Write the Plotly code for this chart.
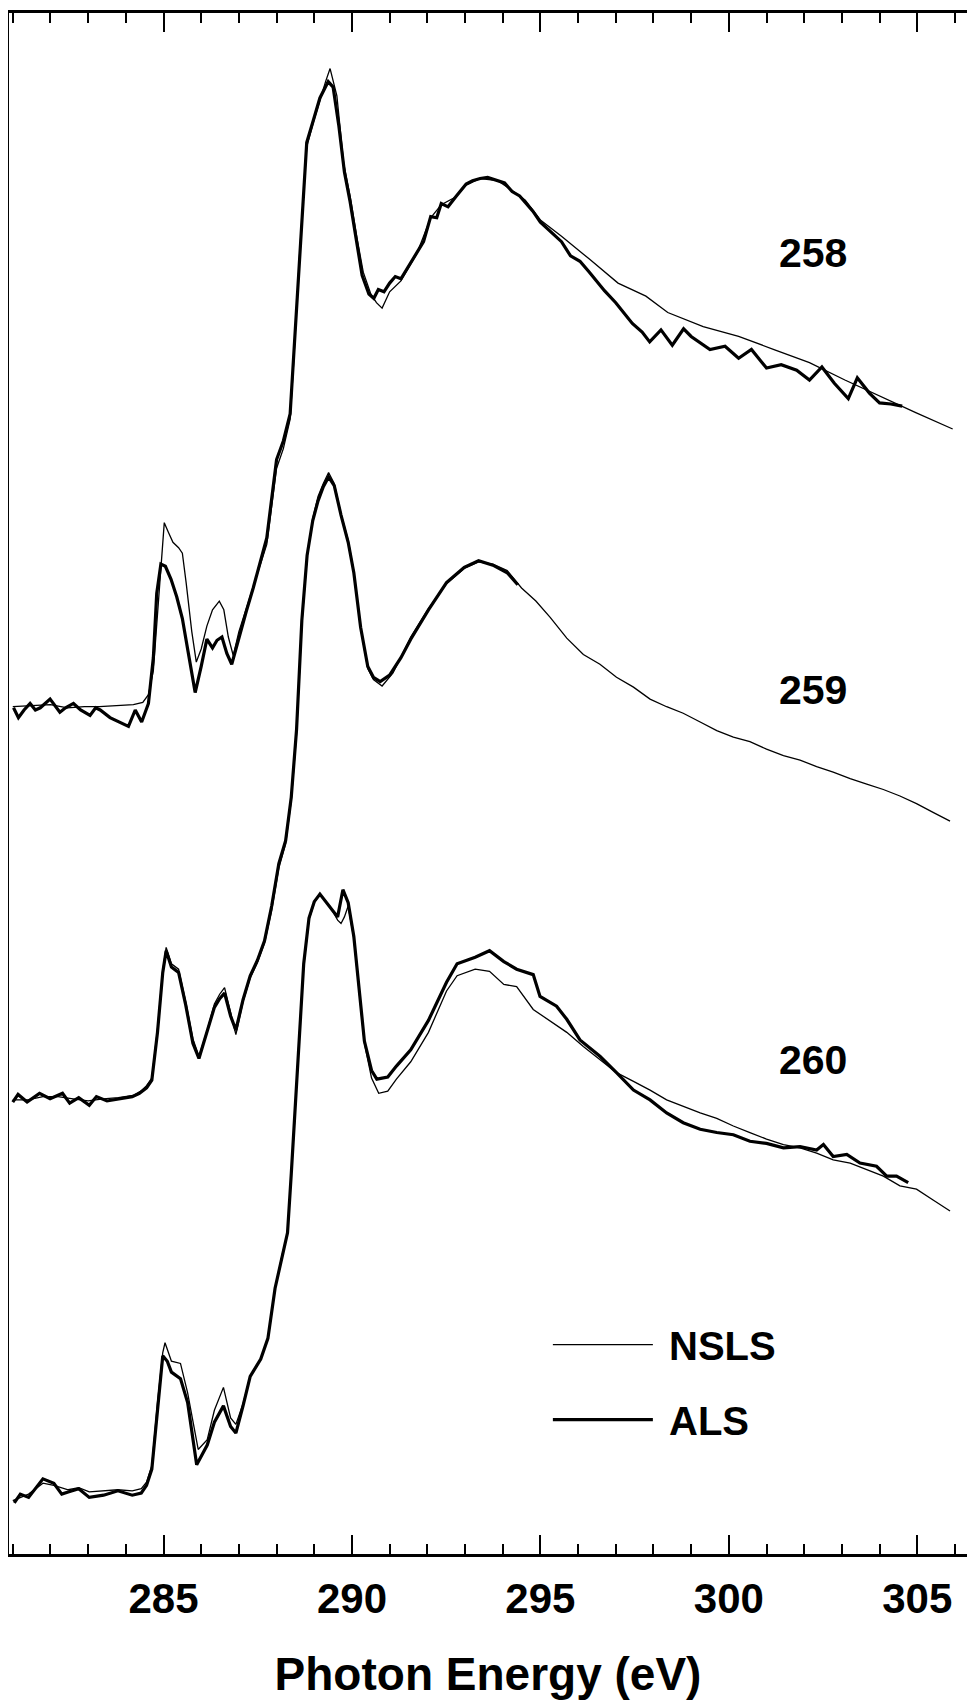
import plotly.graph_objects as go

# ---------------- data (photon energy in eV, intensity in arbitrary units, spectra vertically offset) -------------
e_258_nsls = [281.0, 281.5, 282.0, 282.45, 282.9, 283.3, 283.75, 284.2, 284.45, 284.6, 284.73, 284.85, 284.93, 285.02,
              285.12, 285.25, 285.4, 285.5, 285.6, 285.75, 285.87, 286.0, 286.15, 286.3, 286.48, 286.6, 286.72, 286.85,
              287.0, 287.2, 287.4, 287.6, 287.74, 288.0, 288.18, 288.36, 288.45, 288.62, 288.8, 288.98, 289.15, 289.3,
              289.42, 289.6, 289.78, 289.95, 290.13, 290.3, 290.5, 290.65, 290.8, 291.0, 291.3, 291.72, 292.09, 292.37,
              292.75, 293.03, 293.4, 293.87, 294.25, 294.6, 295.0, 295.56, 296.3, 297.06, 297.8, 298.38, 299.32, 300.26,
              301.2, 302.14, 303.08, 304.0, 304.96, 305.94]
i_258_nsls = [7.78, 7.79, 7.80, 7.77, 7.78, 7.78, 7.79, 7.80, 7.82, 7.89, 8.11, 8.67, 9.12, 9.47,
              9.39, 9.29, 9.24, 9.19, 8.92, 8.47, 8.19, 8.31, 8.52, 8.67, 8.75, 8.67, 8.42, 8.25,
              8.47, 8.69, 8.89, 9.12, 9.27, 9.97, 10.15, 10.42, 10.92, 11.99, 12.92, 13.15, 13.35, 13.52,
              13.64, 13.39, 12.77, 12.47, 12.09, 11.77, 11.57, 11.49, 11.44, 11.59, 11.69, 11.94, 12.27, 12.39,
              12.46, 12.57, 12.63, 12.61, 12.52, 12.43, 12.25, 12.10, 11.89, 11.67, 11.55, 11.40, 11.27, 11.18,
              11.06, 10.94, 10.78, 10.63, 10.48, 10.33]

e_258_als = [281.02, 281.15, 281.3, 281.46, 281.6, 281.73, 281.99, 282.25, 282.4, 282.61, 282.8, 283.05, 283.2, 283.32,
             283.58, 283.84, 284.07, 284.25, 284.42, 284.6, 284.73, 284.82, 284.93, 285.05, 285.2, 285.35, 285.5, 285.65,
             285.84, 286.0, 286.15, 286.3, 286.42, 286.55, 286.68, 286.81, 287.0, 287.2, 287.38, 287.65, 287.74, 288.0,
             288.18, 288.36, 288.45, 288.62, 288.8, 288.98, 289.15, 289.37, 289.5, 289.65, 289.8, 289.95, 290.13, 290.27,
             290.45, 290.58, 290.7, 290.85, 291.0, 291.15, 291.3, 291.5, 291.72, 291.9, 292.09, 292.25, 292.37, 292.55,
             292.75, 293.03, 293.2, 293.4, 293.6, 293.87, 294.05, 294.25, 294.45, 294.6, 294.8, 295.0, 295.3, 295.56,
             295.8, 296.05, 296.3, 296.7, 297.0, 297.44, 297.7, 297.9, 298.2, 298.5, 298.8, 299.0, 299.5, 299.9,
             300.26, 300.6, 301.0, 301.39, 301.8, 302.14, 302.47, 302.8, 303.17, 303.41, 303.73, 304.0, 304.3, 304.6]
i_258_als = [7.77, 7.68, 7.75, 7.81, 7.75, 7.77, 7.85, 7.73, 7.77, 7.81, 7.75, 7.70, 7.77, 7.75,
             7.68, 7.64, 7.60, 7.75, 7.64, 7.81, 8.23, 8.82, 9.09, 9.07, 8.95, 8.79, 8.59, 8.29,
             7.91, 8.15, 8.40, 8.32, 8.39, 8.42, 8.27, 8.17, 8.42, 8.66, 8.87, 9.22, 9.33, 10.05,
             10.22, 10.47, 10.98, 12.03, 12.96, 13.17, 13.37, 13.52, 13.47, 13.12, 12.69, 12.42, 12.05, 11.74,
             11.57, 11.53, 11.61, 11.59, 11.67, 11.73, 11.71, 11.82, 11.95, 12.05, 12.28, 12.27, 12.40, 12.37,
             12.46, 12.58, 12.61, 12.63, 12.64, 12.61, 12.59, 12.51, 12.47, 12.41, 12.33, 12.23, 12.13, 12.05,
             11.92, 11.87, 11.77, 11.60, 11.49, 11.30, 11.22, 11.13, 11.24, 11.10, 11.25, 11.18, 11.06, 11.09,
             10.98, 11.06, 10.89, 10.92, 10.87, 10.78, 10.90, 10.75, 10.61, 10.80, 10.66, 10.57, 10.56, 10.54]

e_259_nsls = [281.0, 281.4, 281.8, 282.2, 282.6, 283.0, 283.4, 283.8, 284.2, 284.4, 284.55, 284.69, 284.84, 284.98,
              285.07, 285.21, 285.4, 285.59, 285.78, 285.94, 286.16, 286.35, 286.49, 286.62, 286.78, 286.92, 287.11,
              287.3, 287.49, 287.68, 287.87, 288.06, 288.24, 288.39, 288.53, 288.67, 288.81, 288.96, 289.1, 289.24,
              289.38, 289.53, 289.71, 289.9, 290.05, 290.23, 290.42, 290.57, 290.8, 291.09, 291.56, 292.03, 292.51,
              292.98, 293.36, 293.74, 294.12, 294.5, 294.88, 295.26, 295.7, 296.14, 296.58, 297.02, 297.47, 297.91,
              298.35, 298.79, 299.24, 299.68, 300.12, 300.56, 301.0, 301.45, 301.89, 302.33, 302.77, 303.22, 303.66,
              304.1, 304.54, 304.98, 305.42, 305.87]
i_259_nsls = [4.17, 4.17, 4.20, 4.20, 4.18, 4.16, 4.18, 4.19, 4.21, 4.25, 4.30, 4.37, 4.82, 5.36,
              5.57, 5.42, 5.37, 5.07, 4.73, 4.57, 4.81, 5.05, 5.14, 5.20, 4.97, 4.77, 5.07,
              5.29, 5.43, 5.61, 5.91, 6.30, 6.52, 6.92, 7.53, 8.54, 9.15, 9.51, 9.71, 9.83,
              9.93, 9.83, 9.55, 9.31, 9.02, 8.50, 8.13, 8.03, 7.97, 8.09, 8.42, 8.68, 8.91,
              9.05, 9.11, 9.09, 9.03, 8.87, 8.75, 8.60, 8.41, 8.26, 8.17, 8.05, 7.96, 7.85,
              7.78, 7.72, 7.64, 7.56, 7.50, 7.46, 7.39, 7.33, 7.29, 7.23, 7.18, 7.12, 7.07,
              7.02, 6.96, 6.89, 6.81, 6.73]

e_259_als = [281.0, 281.14, 281.38, 281.71, 281.99, 282.32, 282.51, 282.75, 283.03, 283.22, 283.5, 283.89, 284.17,
             284.36, 284.55, 284.69, 284.84, 284.98, 285.07, 285.21, 285.4, 285.59, 285.78, 285.94, 286.16, 286.35,
             286.49, 286.62, 286.78, 286.92, 287.11, 287.3, 287.49, 287.68, 287.87, 288.06, 288.24, 288.39, 288.53,
             288.67, 288.81, 288.96, 289.1, 289.24, 289.38, 289.53, 289.71, 289.9, 290.05, 290.23, 290.42, 290.57,
             290.75, 291.0, 291.3, 291.56, 292.03, 292.51, 292.98, 293.36, 293.74, 294.12, 294.4]
i_259_als = [4.15, 4.22, 4.15, 4.23, 4.18, 4.23, 4.14, 4.19, 4.12, 4.20, 4.16, 4.18, 4.20,
             4.23, 4.28, 4.35, 4.79, 5.34, 5.54, 5.39, 5.34, 5.04, 4.69, 4.55, 4.79, 5.02,
             5.10, 5.15, 4.94, 4.81, 5.09, 5.31, 5.45, 5.63, 5.95, 6.34, 6.55, 6.95, 7.57,
             8.57, 9.17, 9.49, 9.67, 9.80, 9.89, 9.81, 9.54, 9.29, 9.01, 8.51, 8.15, 8.05,
             8.01, 8.07, 8.23, 8.40, 8.67, 8.92, 9.06, 9.12, 9.08, 9.01, 8.90]

e_260_nsls = [281.0, 281.42, 281.8, 282.09, 282.47, 282.75, 283.03, 283.41, 283.79, 284.17, 284.41, 284.55, 284.69,
              284.84, 284.98, 285.04, 285.21, 285.45, 285.64, 285.92, 286.16, 286.35, 286.59, 286.78, 286.92, 287.11,
              287.3, 287.58, 287.77, 287.96, 288.15, 288.29, 288.39, 288.48, 288.58, 288.72, 288.86, 289.0, 289.15,
              289.24, 289.43, 289.62, 289.71, 289.8, 289.9, 290.05, 290.19, 290.33, 290.52, 290.71, 290.95, 291.18,
              291.56, 292.03, 292.51, 292.79, 293.27, 293.65, 294.03, 294.37, 294.81, 295.26, 295.7, 296.14, 296.58,
              297.02, 297.47, 297.91, 298.35, 298.79, 299.24, 299.68, 300.12, 300.56, 301.0, 301.45, 301.89, 302.33,
              302.77, 303.22, 303.66, 304.1, 304.54, 304.98, 305.42, 305.87]
i_260_nsls = [0.49, 0.55, 0.65, 0.63, 0.59, 0.61, 0.57, 0.58, 0.59, 0.58, 0.60, 0.66, 0.81,
              1.39, 1.85, 1.94, 1.77, 1.75, 1.48, 0.96, 1.05, 1.32, 1.53, 1.25, 1.19, 1.38,
              1.63, 1.79, 1.98, 2.44, 2.75, 2.94, 3.48, 3.98, 4.63, 5.40, 5.82, 5.98, 6.06,
              6.02, 5.94, 5.82, 5.79, 5.85, 5.95, 5.65, 5.19, 4.69, 4.37, 4.23, 4.25, 4.36,
              4.52, 4.79, 5.17, 5.31, 5.37, 5.35, 5.23, 5.21, 5.00, 4.89, 4.79, 4.66, 4.54,
              4.42, 4.34, 4.26, 4.17, 4.11, 4.05, 4.00, 3.93, 3.87, 3.81, 3.76, 3.73, 3.68,
              3.62, 3.59, 3.53, 3.47, 3.38, 3.35, 3.25, 3.15]

e_260_als = [281.04, 281.2, 281.42, 281.8, 282.09, 282.3, 282.47, 282.75, 283.03, 283.41, 283.79, 284.17, 284.41,
             284.55, 284.69, 284.84, 284.98, 285.1, 285.21, 285.45, 285.64, 285.88, 286.16, 286.35, 286.59, 286.78,
             286.92, 287.11, 287.3, 287.58, 287.77, 287.96, 288.15, 288.29, 288.39, 288.48, 288.58, 288.72, 288.86,
             289.0, 289.15, 289.24, 289.43, 289.62, 289.76, 289.9, 290.05, 290.19, 290.33, 290.52, 290.66, 290.95,
             291.18, 291.56, 292.03, 292.51, 292.79, 293.27, 293.65, 294.03, 294.37, 294.81, 294.99, 295.43, 295.7,
             296.05, 296.58, 297.02, 297.47, 297.91, 298.35, 298.79, 299.24, 299.68, 300.12, 300.56, 301.0, 301.45,
             301.89, 302.33, 302.51, 302.77, 303.13, 303.48, 303.92, 304.19, 304.45, 304.76]
i_260_als = [0.47, 0.55, 0.52, 0.69, 0.65, 0.55, 0.57, 0.60, 0.52, 0.54, 0.58, 0.54, 0.56,
             0.63, 0.78, 1.36, 1.82, 1.77, 1.67, 1.61, 1.39, 0.82, 1.00, 1.21, 1.36, 1.17,
             1.11, 1.36, 1.63, 1.79, 1.98, 2.44, 2.75, 2.95, 3.49, 4.00, 4.65, 5.42, 5.84,
             5.99, 6.06, 6.02, 5.94, 5.85, 6.10, 5.98, 5.67, 5.21, 4.71, 4.44, 4.36, 4.38,
             4.48, 4.63, 4.90, 5.25, 5.42, 5.48, 5.54, 5.44, 5.37, 5.32, 5.12, 5.03, 4.91,
             4.72, 4.57, 4.42, 4.26, 4.17, 4.05, 3.96, 3.90, 3.87, 3.85, 3.79, 3.77, 3.73,
             3.74, 3.71, 3.76, 3.65, 3.67, 3.59, 3.56, 3.47, 3.47, 3.41]

spectrum_labels = ["258", "259", "260"]
label_energy = 302.23
label_level = [11.95, 7.93, 4.54]

tick_values = [285, 290, 295, 300, 305]
tick_text = ["285", "290", "295", "300", "305"]
x_title = "Photon Energy (eV)"

# ---------------- figure ----------------
FONT = "Liberation Sans, Arial, Helvetica, sans-serif"
fig = go.Figure()

series = [
    (e_258_nsls, i_258_nsls, "NSLS", 1.3, True),
    (e_258_als, i_258_als, "ALS", 3.2, True),
    (e_259_nsls, i_259_nsls, "NSLS", 1.3, False),
    (e_259_als, i_259_als, "ALS", 3.2, False),
    (e_260_nsls, i_260_nsls, "NSLS", 1.3, False),
    (e_260_als, i_260_als, "ALS", 3.2, False),
]
for ex, iy, name, w, show in series:
    fig.add_trace(go.Scatter(
        x=ex, y=iy, mode="lines", name="\u00a0" + name, legendgroup=name, showlegend=show,
        line=dict(color="black", width=w), hoverinfo="skip"))

for lab, lev in zip(spectrum_labels, label_level):
    fig.add_annotation(x=label_energy, y=lev, xref="x", yref="y", text=lab, showarrow=False,
                       font=dict(family=FONT, size=41, color="black", weight="bold"),
                       xanchor="center", yanchor="middle")

# the page body adds an 8 px margin, so the figure is sized to fit the 975x1708 window without scrollbars
fig.update_layout(
    width=959, height=1692,
    margin=dict(l=1, r=0, t=5, b=146, pad=0, autoexpand=False),
    paper_bgcolor="white", plot_bgcolor="white",
    showlegend=True,
    legend=dict(x=0.5625, y=0.157, xanchor="left", yanchor="top",
                font=dict(family=FONT, size=40, color="black", weight="bold"),
                itemwidth=100, tracegroupgap=20, traceorder="grouped",
                bgcolor="rgba(0,0,0,0)", borderwidth=0),
)
fig.update_xaxes(
    range=[280.90, 306.32], showgrid=False, zeroline=False, automargin=False,
    showline=True, linecolor="black", linewidth=3, mirror="allticks",
    ticks="inside", ticklen=19, tickwidth=2, tickcolor="black",
    tickmode="array", tickvals=tick_values, ticktext=tick_text,
    tickfont=dict(family=FONT, size=42, color="black", weight="bold"),
    ticklabelstandoff=6,
    minor=dict(dtick=1, tick0=280, ticks="inside", ticklen=10, tickwidth=2, tickcolor="black", showgrid=False),
    title=dict(text=x_title, standoff=54, font=dict(family=FONT, size=46, color="black", weight="bold")),
)
fig.update_yaxes(
    range=[0.0, 14.15], showgrid=False, zeroline=False, automargin=False,
    showline=True, linecolor="black", linewidth=3, mirror=False,
    ticks="", showticklabels=False,
)

fig.write_html("out.html")
